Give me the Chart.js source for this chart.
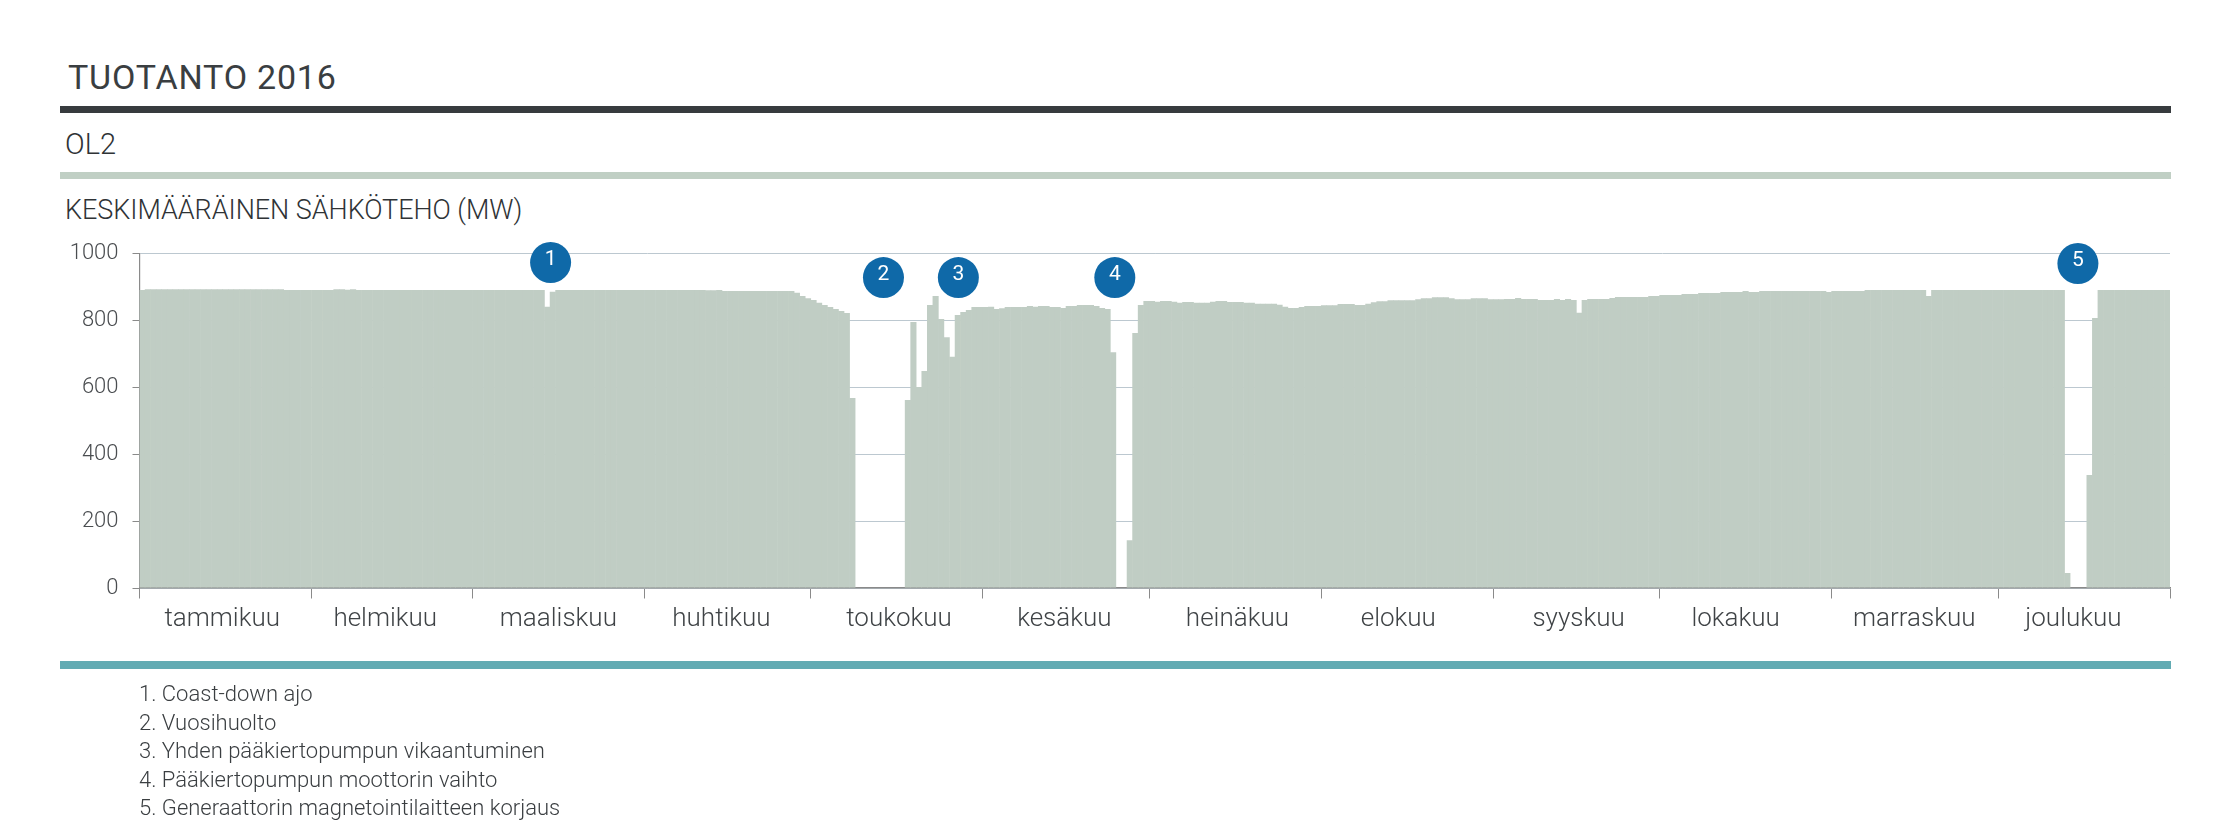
<!DOCTYPE html>
<html lang="fi">
<head>
<meta charset="utf-8">
<title>Tuotanto 2016</title>
<script src="https://cdn.jsdelivr.net/npm/chart.js@4"></script>
<style>
  html, body { margin: 0; padding: 0; background: #fff; width: 2232px; height: 824px; overflow: hidden; }
  body { position: relative; font-family: Roboto, sans-serif; font-weight: 300; color: #2f3336; }
  #chart { position: absolute; left: 0; top: 0; }
  .rule { position: absolute; left: 60px; width: 2111px; }
  .txt { position: absolute; white-space: nowrap; line-height: 1; }
  #title { left: 68px; top: 60px; font-size: 34px; font-weight: 400; color: #3a3e41; letter-spacing: 0.8px; }
  #unit { left: 65px; top: 130px; font-size: 29px; }
  #sub { left: 65px; top: 197px; font-size: 27px; letter-spacing: -0.05px; }
  #notes { position: absolute; left: 139px; top: 680px; margin: 0; padding: 0; list-style: none; font-size: 22px; line-height: 28.6px; color: #3a3e41; }
</style>
</head>
<body>
<div class="txt" id="title">TUOTANTO 2016</div>
<div class="rule" style="top:106px;height:7px;background:#373b3e"></div>
<div class="txt" id="unit">OL2</div>
<div class="rule" style="top:172px;height:7px;background:#c0cfc4"></div>
<div class="txt" id="sub">KESKIMÄÄRÄINEN SÄHKÖTEHO (MW)</div>
<canvas id="chart" width="2232" height="824"></canvas>
<div class="rule" style="top:661px;height:8px;background:#62abb3"></div>
<ul id="notes"></ul>

<script>
// daily average power (MW), one array per month
const tammikuu = [891, 893, 893, 893, 893, 893, 893, 893, 893, 893, 893, 893, 893, 893, 893, 893, 893, 893, 893, 893, 893, 893, 893, 893, 893, 893, 891, 891, 891, 891, 891];
const helmikuu = [891, 891, 891, 891, 893, 893, 892, 893, 891, 891, 891, 891, 891, 891, 891, 891, 891, 891, 891, 891, 891, 891, 891, 891, 891, 891, 891, 891, 891];
const maaliskuu = [891, 891, 891, 891, 891, 891, 891, 891, 891, 891, 891, 891, 891, 841, 886, 891, 891, 891, 891, 891, 891, 891, 891, 891, 891, 891, 891, 891, 891, 891, 891];
const huhtikuu = [891, 891, 891, 891, 891, 891, 891, 891, 891, 891, 891, 890, 890, 891, 888, 888, 888, 888, 888, 888, 888, 888, 888, 888, 888, 888, 888, 883, 873, 866];
const toukokuu = [861, 853, 846, 840, 834, 828, 822, 568, 0, 0, 0, 0, 0, 0, 0, 0, 0, 562, 795, 601, 649, 846, 873, 804, 750, 691, 816, 825, 831, 840, 840];
const kesakuu = [840, 841, 834, 836, 840, 840, 840, 840, 843, 841, 843, 843, 840, 840, 837, 843, 843, 846, 846, 846, 843, 837, 834, 705, 0, 0, 143, 762, 846, 858];
const heinakuu = [858, 856, 858, 858, 856, 853, 855, 855, 853, 853, 853, 856, 858, 858, 855, 855, 855, 853, 853, 850, 850, 850, 850, 847, 841, 837, 837, 840, 843, 843, 843];
const elokuu = [845, 845, 845, 849, 849, 849, 846, 846, 850, 854, 857, 857, 860, 860, 860, 860, 860, 863, 866, 866, 869, 869, 869, 866, 863, 863, 863, 866, 866, 866, 863];
const syyskuu = [863, 863, 864, 864, 867, 864, 864, 864, 861, 861, 861, 864, 861, 864, 861, 823, 861, 864, 864, 864, 864, 867, 870, 870, 870, 870, 870, 870, 873, 873];
const lokakuu = [876, 876, 876, 876, 879, 879, 879, 882, 882, 882, 882, 885, 885, 885, 885, 888, 885, 885, 888, 888, 888, 888, 888, 888, 888, 888, 888, 888, 888, 888, 885];
const marraskuu = [888, 888, 888, 888, 888, 888, 891, 891, 891, 891, 891, 891, 891, 891, 891, 891, 891, 873, 891, 891, 891, 891, 891, 891, 891, 891, 891, 891, 891, 891];
const joulukuu = [891, 891, 891, 891, 891, 891, 891, 891, 891, 891, 891, 891, 45, 0, 0, 0, 338, 807, 891, 891, 891, 891, 891, 891, 891, 891, 891, 891, 891, 891, 891];

const months = [tammikuu, helmikuu, maaliskuu, huhtikuu, toukokuu, kesakuu, heinakuu, elokuu, syyskuu, lokakuu, marraskuu, joulukuu];
const monthNames = ['tammikuu', 'helmikuu', 'maaliskuu', 'huhtikuu', 'toukokuu', 'kesäkuu', 'heinäkuu', 'elokuu', 'syyskuu', 'lokakuu', 'marraskuu', 'joulukuu'];
// day of year under the middle of each month name
const monthLabelDays = [14.9, 44.3, 75.5, 104.9, 136.9, 166.7, 197.9, 226.9, 259.4, 287.7, 319.9, 348.6];
const yTicks = [0, 200, 400, 600, 800, 1000];

// numbered event markers: day of year and height on the MW axis
const eventNumbers = ['1', '2', '3', '4', '5'];
const eventDays = [74.1, 134.1, 147.6, 175.8, 349.4];
const eventLevels = [973, 928, 928, 928, 970];
const eventNotes = [
  'Coast-down ajo',
  'Vuosihuolto',
  'Yhden pääkiertopumpun vikaantuminen',
  'Pääkiertopumpun moottorin vaihto',
  'Generaattorin magnetointilaitteen korjaus'
];

document.getElementById('notes').innerHTML = eventNotes.map((n, i) => '<li>' + eventNumbers[i] + '. ' + n + '</li>').join('');

const daily = months.flat();
const monthEdges = [0];
months.forEach(m => monthEdges.push(monthEdges[monthEdges.length - 1] + m.length));

const eventText = {
  id: 'eventText',
  afterDatasetsDraw(chart) {
    const pts = chart.getDatasetMeta(1).data;
    const c = chart.ctx;
    c.save();
    c.fillStyle = '#fff';
    c.font = '400 21px Roboto, sans-serif';
    c.textAlign = 'center';
    c.textBaseline = 'middle';
    pts.forEach((p, i) => c.fillText(eventNumbers[i], p.x, p.y - 3));
    c.restore();
  }
};

new Chart(document.getElementById('chart'), {
  data: {
    datasets: [
      {
        type: 'bar',
        data: daily.map((v, i) => ({ x: i + 0.5, y: v })),
        backgroundColor: '#c0cdc4',
        borderWidth: 0,
        barPercentage: 1.1,
        categoryPercentage: 1,
        order: 2
      },
      {
        type: 'scatter',
        data: eventDays.map((d, i) => ({ x: d, y: eventLevels[i] })),
        backgroundColor: '#0f69a8',
        borderWidth: 0,
        pointRadius: 20.5,
        clip: false,
        order: 1
      }
    ]
  },
  options: {
    responsive: false,
    animation: false,
    events: [],
    layout: { padding: { top: 253.5, right: 62, left: 0, bottom: 0 } },
    plugins: { legend: { display: false }, tooltip: { enabled: false } },
    scales: {
      x: {
        type: 'linear',
        offset: false,
        min: 0,
        max: 366,
        afterBuildTicks(scale) {
          scale.ticks = monthEdges.concat(monthLabelDays).sort((a, b) => a - b).map(v => ({ value: v }));
        },
        afterFit(scale) { scale.height = 824 - 588; },
        grid: {
          offset: false,
          drawOnChartArea: false,
          tickLength: 10.5,
          tickColor: ctx => (ctx.tick && monthEdges.includes(ctx.tick.value)) ? '#8a8a8a' : 'transparent'
        },
        border: { color: '#8a8a8a', width: 1.5 },
        ticks: {
          autoSkip: false,
          maxRotation: 0,
          padding: 5,
          color: '#3f4346',
          font: { family: 'Roboto', size: 26, weight: '300' },
          callback(value) {
            const k = monthLabelDays.indexOf(value);
            return k < 0 ? '' : monthNames[k];
          }
        }
      },
      y: {
        min: 0,
        max: 1000,
        afterBuildTicks(scale) { scale.ticks = yTicks.map(v => ({ value: v })); },
        afterFit(scale) { scale.width = 139.5; },
        grid: { color: '#bcc8d0', lineWidth: 1, tickColor: '#8a8a8a', tickLength: 7 },
        border: { color: '#8a8a8a', width: 1.2 },
        ticks: {
          padding: 14,
          color: '#4a4d50',
          font: { family: 'Roboto', size: 22, weight: '300' },
          callback: value => String(value)
        }
      }
    }
  },
  plugins: [eventText]
});
</script>
</body>
</html>
